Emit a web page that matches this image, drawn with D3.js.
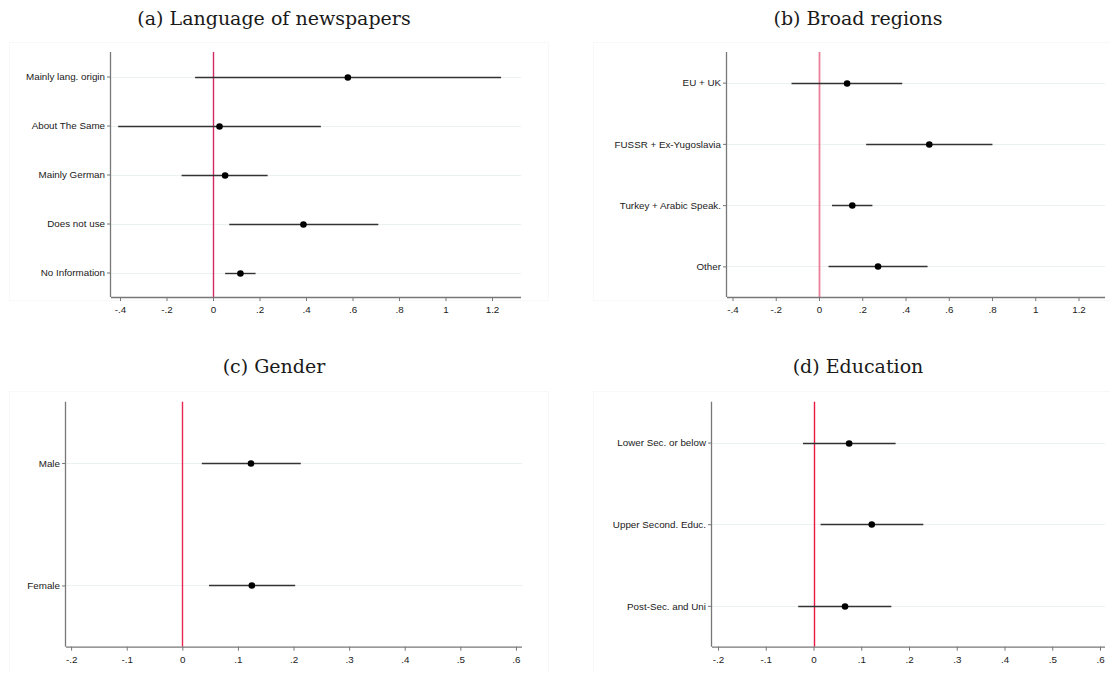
<!DOCTYPE html>
<html><head><meta charset="utf-8">
<script src="https://cdn.jsdelivr.net/npm/d3@7"></script>
<style>body{margin:0;background:#fff}svg{display:block}</style>
</head><body>
<svg id="c" width="1110" height="673"></svg>
<script>
// ---- data ----
const catsA = ["Mainly lang. origin","About The Same","Mainly German","Does not use","No Information"];
const estA  = [0.580, 0.028, 0.052, 0.389, 0.118];
const loA   = [-0.077, -0.408, -0.135, 0.070, 0.052];
const hiA   = [1.239, 0.464, 0.235, 0.711, 0.183];

const catsB = ["EU + UK","FUSSR + Ex-Yugoslavia","Turkey + Arabic Speak.","Other"];
const estB  = [0.130, 0.510, 0.154, 0.273];
const loB   = [-0.127, 0.218, 0.060, 0.044];
const hiB   = [0.385, 0.802, 0.247, 0.502];

const catsC = ["Male","Female"];
const estC  = [0.1235, 0.125];
const loC   = [0.035, 0.048];
const hiC   = [0.213, 0.203];

const catsD = ["Lower Sec. or below","Upper Second. Educ.","Post-Sec. and Uni"];
const estD  = [0.0746, 0.122, 0.066];
const loD   = [-0.022, 0.0148, -0.032];
const hiD   = [0.172, 0.230, 0.163];

const ticksWide = [-0.4,-0.2,0,0.2,0.4,0.6,0.8,1,1.2];
const tickLabelsWide = ["-.4","-.2","0",".2",".4",".6",".8","1","1.2"];
const ticksNarrow = [-0.2,-0.1,0,0.1,0.2,0.3,0.4,0.5,0.6];
const tickLabelsNarrow = ["-.2","-.1","0",".1",".2",".3",".4",".5",".6"];

const titles = ["(a) Language of newspapers","(b) Broad regions","(c) Gender","(d) Education"];

// ---- layout ----
const svg = d3.select("#c");
const panels = [
  {cats:catsA, est:estA, lo:loA, hi:hiA, ticks:ticksWide, labels:tickLabelsWide,
   left:111, right:521, top:52, bottom:297, dom:[-0.4387,1.3247], ref:"#d12a60", rw:1.4,
   title:titles[0], tx:274, ty:25, bg:[9,42,548,300]},
  {cats:catsB, est:estB, lo:loB, hi:hiB, ticks:ticksWide, labels:tickLabelsWide,
   left:727, right:1105, top:52, bottom:297, dom:[-0.4254,1.3225], ref:"#e8809a", rw:1.8,
   title:titles[1], tx:858, ty:25, bg:[593,42,1110,300]},
  {cats:catsC, est:estC, lo:loC, hi:hiC, ticks:ticksNarrow, labels:tickLabelsNarrow,
   left:66, right:522, top:401.7, bottom:646.7, dom:[-0.2092,0.6109], ref:"#e8264f", rw:1.4,
   title:titles[2], tx:274, ty:373, bg:[9,391,548,673]},
  {cats:catsD, est:estD, lo:loD, hi:hiD, ticks:ticksNarrow, labels:tickLabelsNarrow,
   left:712, right:1105, top:401.7, bottom:646.7, dom:[-0.2126,0.6105], ref:"#e8183f", rw:1.4,
   title:titles[3], tx:858, ty:373, bg:[593,391,1110,673]}
];

panels.forEach(p => {
  const g = svg.append("g");
  // faint graph region border
  g.append("rect").attr("x",p.bg[0]+0.5).attr("y",p.bg[1]+0.5)
   .attr("width",p.bg[2]-p.bg[0]).attr("height",p.bg[3]-p.bg[1])
   .attr("fill","none").attr("stroke","#f8f8f8");

  const x = d3.scaleLinear().domain(p.dom).range([p.left,p.right]);
  const y = d3.scalePoint().domain(p.cats).range([p.top,p.bottom]).padding(0.5);

  // title
  g.append("text").attr("x",p.tx).attr("y",p.ty).attr("text-anchor","middle")
   .attr("font-family","'DejaVu Serif', serif").attr("font-size",19)
   .attr("fill","#1a1a1a").text(p.title);

  // gridlines
  g.selectAll("line.grid").data(p.cats).enter().append("line")
   .attr("x1",p.left).attr("x2",p.right)
   .attr("y1",d=>Math.round(y(d))+0.5).attr("y2",d=>Math.round(y(d))+0.5)
   .attr("stroke","#ebf1f1").attr("stroke-width",1);

  // reference line at 0
  const x0 = Math.round(x(0)) + 0.5;
  g.append("line").attr("x1",x0).attr("x2",x0).attr("y1",p.top).attr("y2",p.bottom)
   .attr("stroke",p.ref).attr("stroke-width",p.rw);

  // axes
  const xAxis = d3.axisBottom(x).tickValues(p.ticks).tickSize(4)
    .tickFormat((d,i)=>p.labels[i]);
  const gx = g.append("g").attr("transform",`translate(0,${p.bottom})`).call(xAxis);
  gx.select(".domain").attr("d",`M${p.left},0.5H${p.right}`).attr("stroke","#777").attr("stroke-width",1.3);
  gx.selectAll(".tick line").attr("stroke","#777");
  gx.selectAll(".tick text").attr("font-family","'Liberation Sans', Arial, sans-serif")
    .attr("font-size",9.8).attr("fill","#1a1a1a").attr("dy","0.9em");

  const yAxis = d3.axisLeft(y).tickSize(4).tickPadding(2);
  const gy = g.append("g").attr("transform",`translate(${p.left},0)`).call(yAxis);
  gy.select(".domain").attr("d",`M-0.5,${p.top}V${p.bottom}`).attr("stroke","#777").attr("stroke-width",1.3);
  gy.selectAll(".tick line").attr("stroke","#777");
  gy.selectAll(".tick text").attr("font-family","'Liberation Sans', Arial, sans-serif")
    .attr("font-size",9.8).attr("fill","#1a1a1a");

  // CI bars
  g.selectAll("line.ci").data(p.cats).enter().append("line")
   .attr("x1",(d,i)=>x(p.lo[i])).attr("x2",(d,i)=>x(p.hi[i]))
   .attr("y1",d=>Math.round(y(d))+0.5).attr("y2",d=>Math.round(y(d))+0.5)
   .attr("stroke","#333").attr("stroke-width",1.4);

  // points
  g.selectAll("circle.pt").data(p.cats).enter().append("circle")
   .attr("cx",(d,i)=>x(p.est[i])).attr("cy",d=>Math.round(y(d))+0.5).attr("r",3.3)
   .attr("fill","#000");
});
</script>
</body></html>
